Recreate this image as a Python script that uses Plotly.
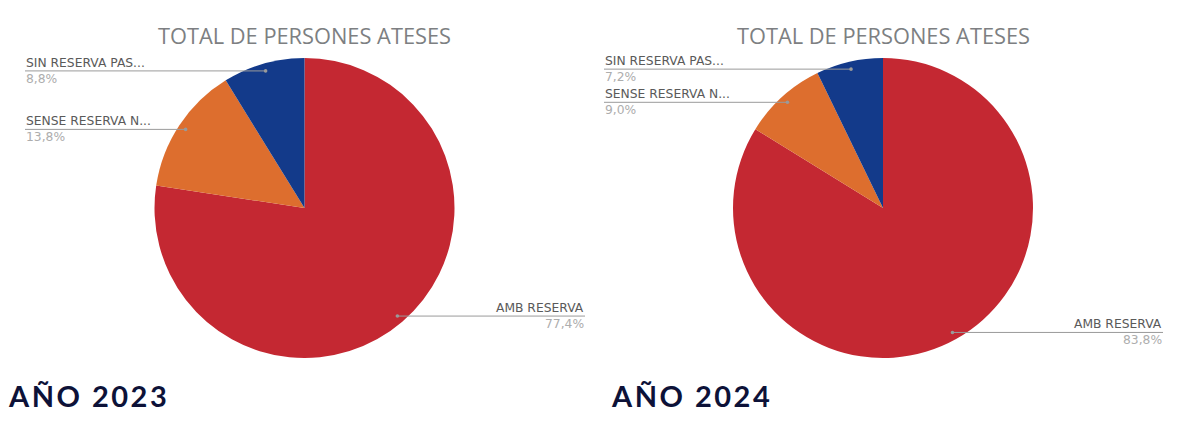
import math
import plotly.graph_objects as go

W, H = 1185, 430

categories = ["AMB RESERVA", "SENSE RESERVA N...", "SIN RESERVA PAS..."]
values_2023 = [77.4, 13.8, 8.8]
values_2024 = [83.8, 9.0, 7.2]
years = ["AÑO 2023", "AÑO 2024"]
title_text = "TOTAL DE PERSONES ATESES"
colors = ["#C42832", "#DD6E2E", "#133A8A"]

# layout (pixels)
pies = [
    dict(values=values_2023, cx=304.5, left_x=25, right_x=585, year_x=6),
    dict(values=values_2024, cx=883.0, left_x=604, right_x=1163, year_x=609),
]
CY, R = 208.0, 150.0


def px(x):
    return x / W


def py(y):
    return 1 - y / H


fig = go.Figure()
annotations = []
shapes = []
for i, p in enumerate(pies):
    cx = p["cx"]
    fig.add_trace(go.Pie(
        labels=categories, values=p["values"], sort=False, direction="clockwise",
        rotation=0, marker=dict(colors=colors, line=dict(width=0)),
        textinfo="none", hoverinfo="label+percent", showlegend=False,
        domain=dict(x=[px(cx - R), px(cx + R)], y=[py(CY + R), py(CY - R)]),
    ))
    annotations.append(dict(
        x=px(cx), y=py(36), xref="paper", yref="paper", text=title_text,
        showarrow=False, xanchor="center", yanchor="middle",
        font=dict(family="Open Sans", size=21.8, color="#7d7f82"),
    ))
    annotations.append(dict(
        x=px(p["year_x"]), y=py(395), xref="paper", yref="paper",
        text=f'<span style="letter-spacing:2.5px">{years[i]}</span>',
        showarrow=False, xanchor="left", yanchor="middle",
        font=dict(family="Lato", size=29, color="#0d1238", weight="bold"),
    ))
    total = sum(p["values"])
    cum = 0.0
    for cat, v in zip(categories, p["values"]):
        mid = (cum + v / 2) / total
        cum += v
        ang = 2 * math.pi * mid
        dx = cx + 0.95 * R * math.sin(ang)
        dy = CY - 0.95 * R * math.cos(ang)
        pct = f"{v:.1f}".replace(".", ",") + "%"
        if dx < cx:
            x0, x1, anchor, tx = p["left_x"], dx, "left", p["left_x"]
        else:
            x0, x1, anchor, tx = dx, p["right_x"], "right", p["right_x"]
        shapes.append(dict(type="line", xref="paper", yref="paper",
                           x0=px(x0), x1=px(x1), y0=py(dy), y1=py(dy),
                           line=dict(color="#9a9a9a", width=1)))
        shapes.append(dict(type="circle", xref="paper", yref="paper",
                           x0=px(dx - 1.8), x1=px(dx + 1.8), y0=py(dy + 1.8), y1=py(dy - 1.8),
                           fillcolor="#9a9a9a", line=dict(width=0)))
        annotations.append(dict(
            x=px(tx), y=py(dy), xref="paper", yref="paper", text=cat,
            showarrow=False, xanchor=anchor, yanchor="bottom", borderpad=0,
            font=dict(family="DejaVu Sans", size=12.3, color="#5a5a5a"),
        ))
        annotations.append(dict(
            x=px(tx), y=py(dy), xref="paper", yref="paper", text=pct,
            showarrow=False, xanchor=anchor, yanchor="top", borderpad=0,
            font=dict(family="DejaVu Sans", size=12.3, color="#adadad"),
        ))

fig.update_layout(
    width=W, height=H, margin=dict(l=0, r=0, t=0, b=0),
    paper_bgcolor="white", plot_bgcolor="white",
    annotations=annotations, shapes=shapes,
)
fig.write_html("out.html")
